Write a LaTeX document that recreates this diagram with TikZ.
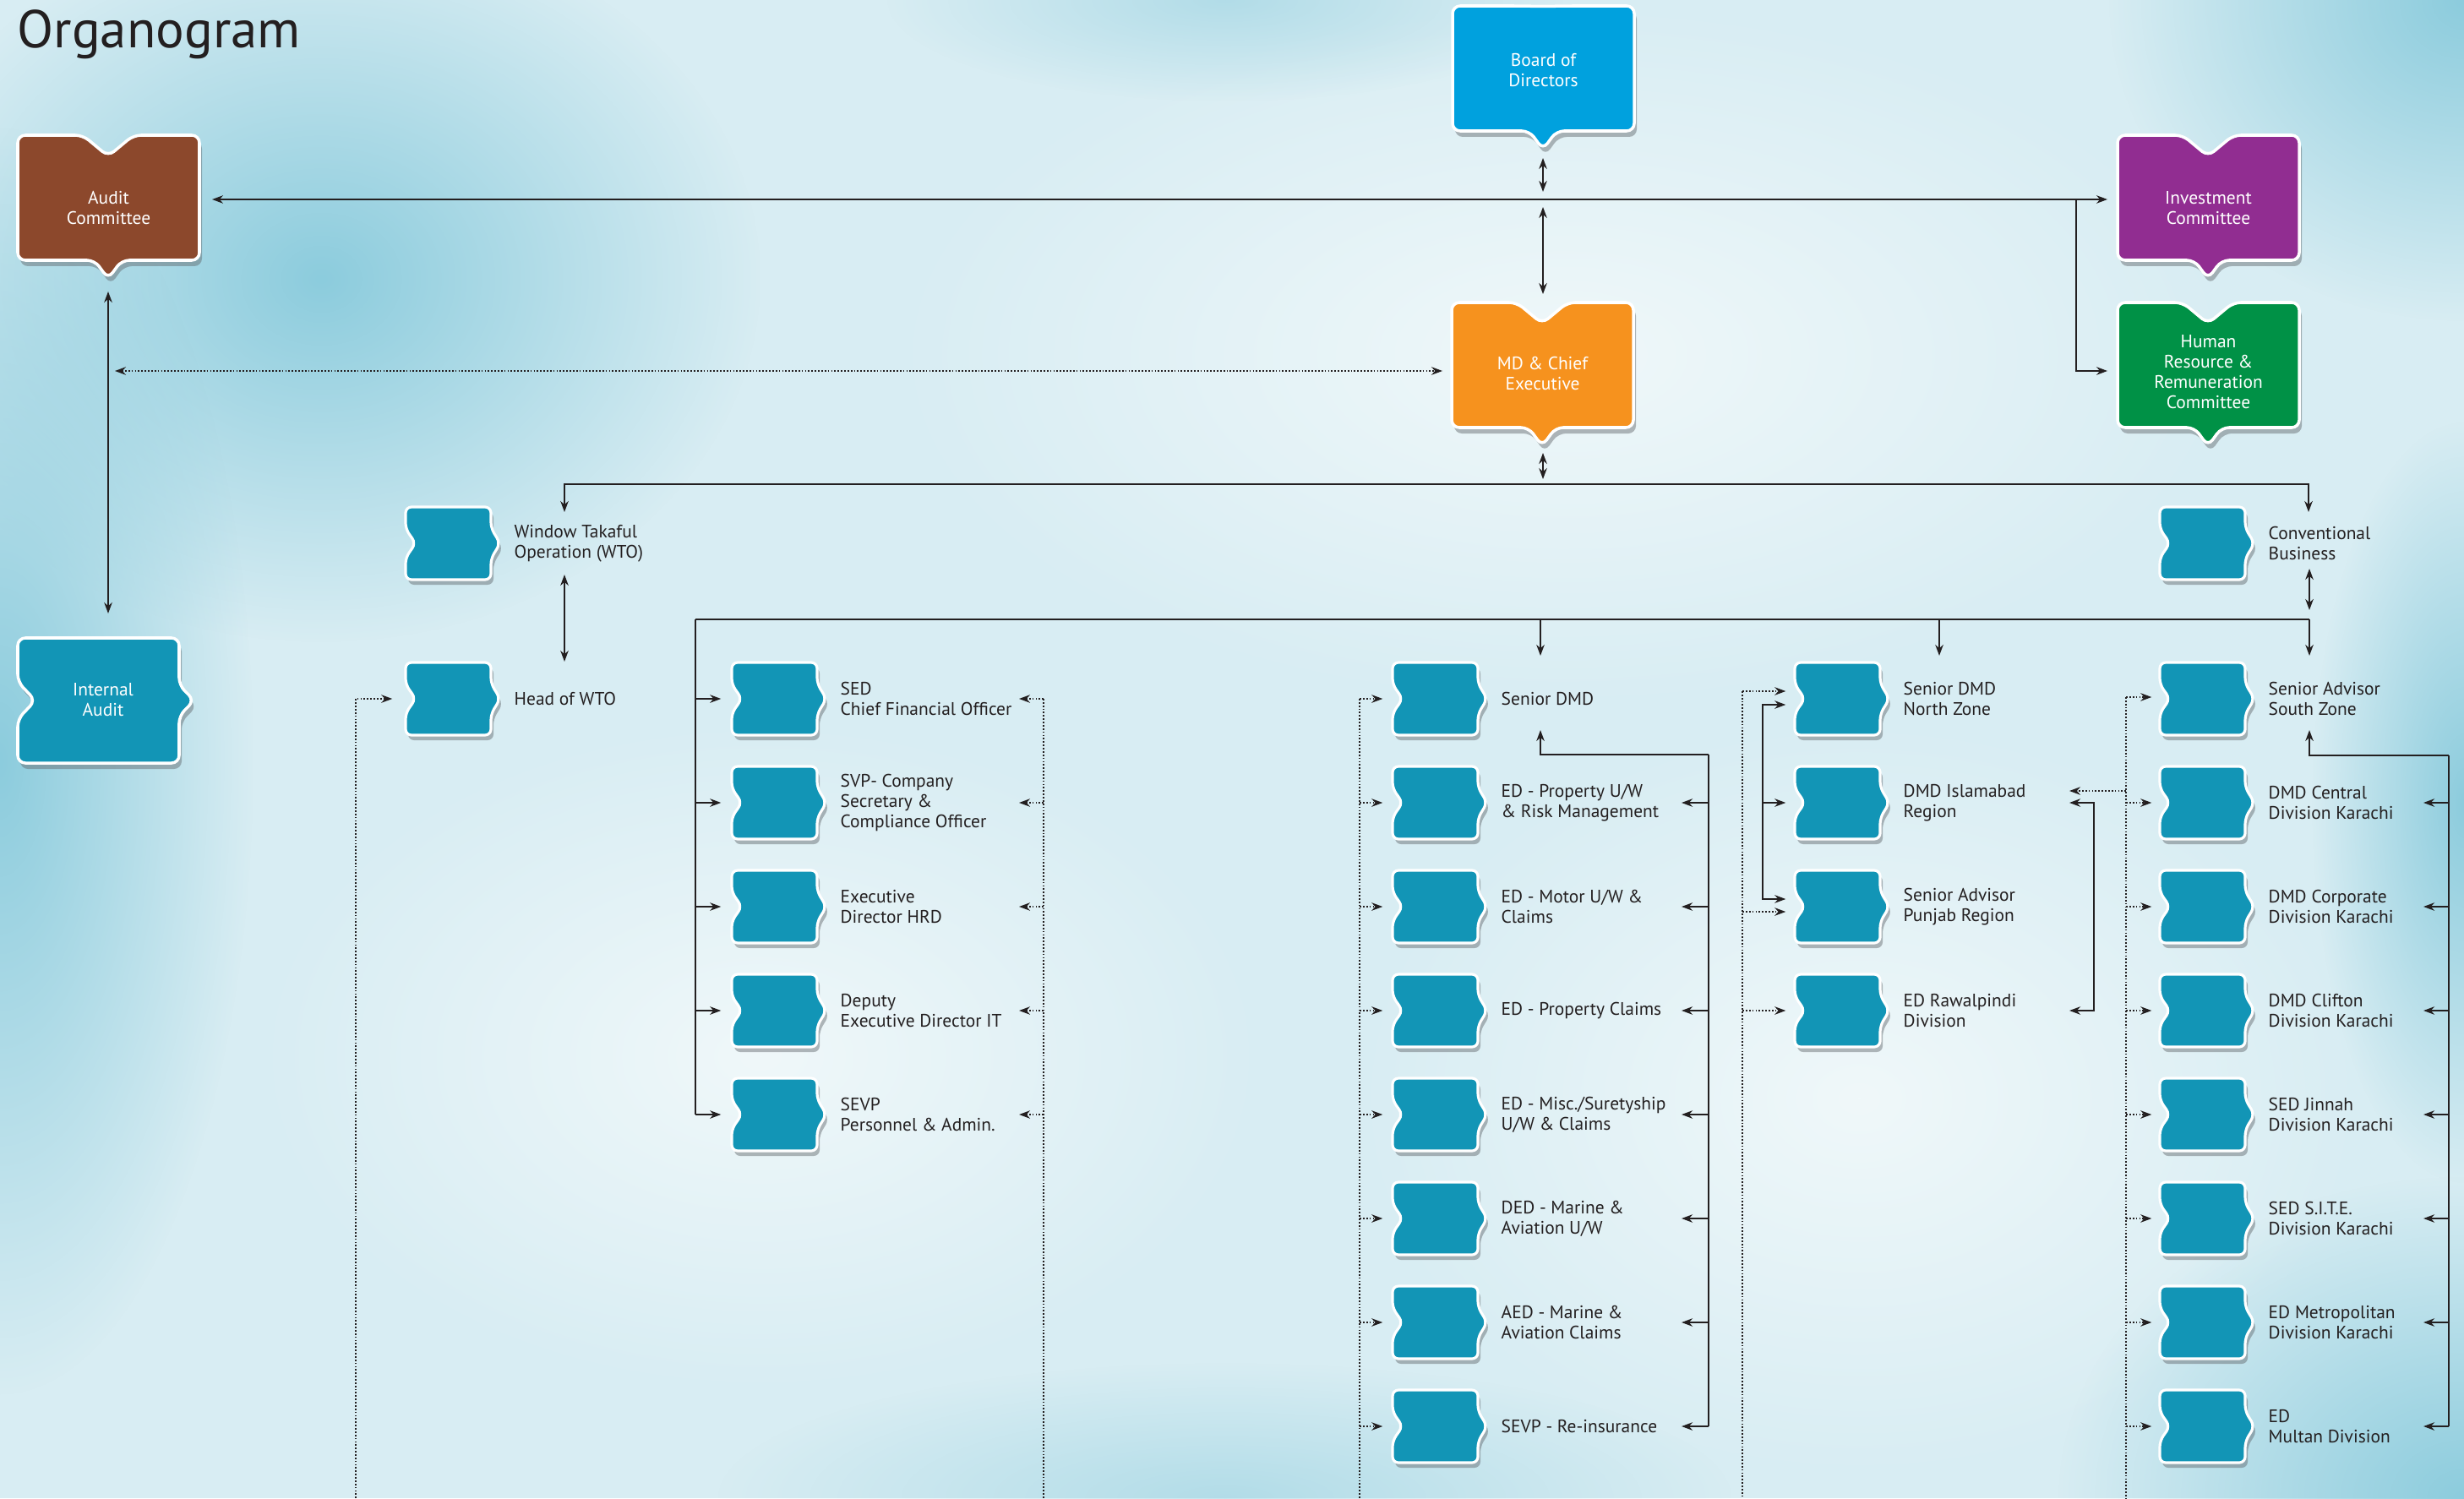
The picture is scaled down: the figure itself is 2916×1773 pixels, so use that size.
\documentclass[tikz,border=0pt]{standalone}
\usepackage{fontspec}
\setmainfont{PT Sans}
\usetikzlibrary{arrows.meta,calc,fadings}
\definecolor{bgc}{RGB}{216,237,243}
\definecolor{bgdark}{RGB}{140,204,221}
\definecolor{bglight}{RGB}{240,248,250}
\definecolor{tealc}{RGB}{18,149,182}
\definecolor{boardc}{RGB}{0,161,222}
\definecolor{mdc}{RGB}{246,146,30}
\definecolor{invc}{RGB}{145,45,145}
\definecolor{hrc}{RGB}{0,145,70}
\definecolor{auditc}{RGB}{140,72,44}
\definecolor{txtc}{RGB}{35,31,32}
\definecolor{shadowc}{RGB}{95,100,105}
\tikzfading[name=blobfade, inner color=transparent!0, outer color=transparent!100]
\newcommand\lblfont{\fontsize{6.1}{6.8}\selectfont}
\tikzset{
  lbl/.style={anchor=west, inner sep=0pt, align=left, font=\lblfont, text=txtc},
  boxtxt/.style={inner sep=0pt, align=center, font=\lblfont, text=white},
  ln/.style={line width=0.6pt, draw=txtc},
  dl/.style={line width=0.45pt, draw=txtc, dash pattern=on 0.5pt off 0.6pt},
  blob/.style={path fading=blobfade, fit fading=true},
}
% small teal box: name, left x, centre y, label
\newcommand\orgsmall[4]{%
  \begin{scope}[shift={(#2,#3)}]
    \begin{scope}[shift={(3,6)}]
      \fill[shadowc, opacity=0.45, rounded corners=0.07cm] (12,0) -- (0,-17) -- (0,-43) -- (101,-43) -- (101,-18) -- (112,0) -- (101,18) -- (101,43) -- (0,43) -- (0,17) -- cycle;
    \end{scope}
    \filldraw[draw=white, line width=0.9pt, fill=tealc, rounded corners=0.07cm] (12,0) -- (0,-17) -- (0,-43) -- (101,-43) -- (101,-18) -- (112,0) -- (101,18) -- (101,43) -- (0,43) -- (0,17) -- cycle;
    \node[inner sep=0pt, minimum width=1.01cm, minimum height=0.86cm] (#1) at (50.5,0) {};
    \node[lbl] (#1t) at (128,0) {#4};
  \end{scope}}
% big coloured box: name, left x, top y, colour, text, notch depth, text offset
\newcommand\orgbig[7]{%
  \begin{scope}[shift={(#2,#3)}]
    \begin{scope}[shift={(3,7)}]
      \fill[shadowc, opacity=0.45, rounded corners=0.09cm] (0,74) -- (0,0) -- (77,0) -- (107,#6) -- (137,0) -- (215,0) -- (215,148) -- (123,148) -- (107,170) -- (91,148) -- (0,148) -- cycle;
    \end{scope}
    \filldraw[draw=white, line width=1pt, fill=#4, rounded corners=0.09cm] (0,74) -- (0,0) -- (77,0) -- (107,#6) -- (137,0) -- (215,0) -- (215,148) -- (123,148) -- (107,170) -- (91,148) -- (0,148) -- cycle;
    \node[inner sep=0pt, minimum width=2.15cm, minimum height=1.48cm] (#1) at (107.5,74) {};
    \node[boxtxt] (#1t) at (107.5,#7) {#5};
  \end{scope}}
\begin{document}
\begin{tikzpicture}[x=0.01cm, y=-0.01cm, >={Stealth[length=1.3mm,width=0.95mm]}]
\useasboundingbox (0,0) rectangle (2916,1773);
% background
\begin{scope}
  \clip (0,0) rectangle (2916,1773);
  \fill[bgc] (0,0) rectangle (2916,1773);
  \fill[bglight, blob] (1850,420) ellipse (800 and 420);
  \fill[bglight, blob] (2200,1300) ellipse (600 and 450);
  \fill[bglight, blob] (900,1250) ellipse (600 and 400);
  \fill[bgdark, blob] (380,330) ellipse (520 and 430);
  \fill[bgdark, blob] (0,900) ellipse (300 and 750);
  \fill[bgdark, blob] (2916,0) ellipse (420 and 380);
  \fill[bgdark, blob] (2916,950) ellipse (180 and 450);
  \fill[bgdark, blob] (2916,1773) ellipse (480 and 380);
  \fill[bgdark, opacity=0.5, blob] (1450,1773) ellipse (600 and 160);
  \fill[bgdark, opacity=0.5, blob] (1450,0) ellipse (400 and 120);
\end{scope}
% title
\node[anchor=base west, inner sep=0pt, font=\fontsize{17.9}{20}\selectfont, text=txtc] (title) at (20,57) {Organogram};
% big boxes
\orgbig{board}{1719}{7}{boardc}{Board of\\Directors}{0.5}{76}
\orgbig{audit}{21}{160}{auditc}{Audit\\Committee}{25}{86}
\orgbig{md}{1718}{358}{mdc}{MD \& Chief\\Executive}{25}{84}
\orgbig{invest}{2506}{160}{invc}{Investment\\Committee}{25}{86}
\orgbig{hr}{2506}{358}{hrc}{\fontsize{6.1}{6.1}\selectfont Human\\Resource \&\\Remuneration\\Committee}{25}{82}
% internal audit
\begin{scope}[shift={(21,755)}]
  \begin{scope}[shift={(3,7)}]
    \fill[shadowc, opacity=0.45, rounded corners=0.09cm] (0,0) -- (191,0) -- (191,56) -- (209,74) -- (191,92) -- (191,148) -- (0,148) -- (0,96) -- (21,74) -- (0,52) -- cycle;
  \end{scope}
  \filldraw[draw=white, line width=1pt, fill=tealc, rounded corners=0.09cm] (0,0) -- (191,0) -- (191,56) -- (209,74) -- (191,92) -- (191,148) -- (0,148) -- (0,96) -- (21,74) -- (0,52) -- cycle;
  \node[inner sep=0pt, minimum width=1.91cm, minimum height=1.48cm] (ia) at (95.5,74) {};
  \node[boxtxt] (iat) at (101,73) {Internal\\Audit};
\end{scope}
% small boxes
\orgsmall{wto}{480}{643}{Window Takaful\\Operation (WTO)}
\orgsmall{hwto}{480}{827}{Head of WTO}
\orgsmall{conv}{2556}{643}{Conventional\\Business}
\foreach \i/\t [evaluate=\i as \ry using 827+123*(\i-1)] in {1/{SED\\Chief Financial Officer}, 2/{SVP- Company\\Secretary \&\\Compliance Officer}, 3/{Executive\\Director HRD}, 4/{Deputy\\Executive Director IT}, 5/{SEVP\\Personnel \& Admin.}}
  {\orgsmall{A\i}{866}{\ry}{\t}}
\foreach \i/\t [evaluate=\i as \ry using 827+123*(\i-1)] in {1/{Senior DMD}, 2/{ED - Property U/W\\\& Risk Management}, 3/{ED - Motor U/W \&\\Claims}, 4/{ED - Property Claims}, 5/{ED - Misc./Suretyship\\U/W \& Claims}, 6/{DED - Marine \&\\Aviation U/W}, 7/{AED - Marine \&\\Aviation Claims}, 8/{SEVP - Re-insurance}}
  {\orgsmall{B\i}{1648}{\ry}{\t}}
\foreach \i/\t [evaluate=\i as \ry using 827+123*(\i-1)] in {1/{Senior DMD\\North Zone}, 2/{DMD Islamabad\\Region}, 3/{Senior Advisor\\Punjab Region}, 4/{ED Rawalpindi\\Division}}
  {\orgsmall{C\i}{2124}{\ry}{\t}}
\foreach \i/\t [evaluate=\i as \ry using 827+123*(\i-1)] in {1/{Senior Advisor\\South Zone}, 2/{DMD Central\\Division Karachi}, 3/{DMD Corporate\\Division Karachi}, 4/{DMD Clifton\\Division Karachi}, 5/{SED Jinnah\\Division Karachi}, 6/{SED S.I.T.E.\\Division Karachi}, 7/{ED Metropolitan\\Division Karachi}, 8/{ED\\Multan Division}}
  {\orgsmall{D\i}{2556}{\ry}{\t}}
% coordinates
\coordinate (bot) at (0,1773);
\coordinate (mlL) at (251,236);
\coordinate (mlR) at (2494,236);
\coordinate (bd1) at (1826,187);
\coordinate (bd2) at (1826,227);
\coordinate (md1) at (1826,245);
\coordinate (md2) at (1826,348);
\coordinate (hrj) at (2457,236);
\coordinate (hrA) at (2494,439);
\coordinate (au1) at (128,345);
\coordinate (au2) at (128,726);
\coordinate (dt1) at (136,439);
\coordinate (dt2) at (1707,439);
\coordinate (md3) at (1826,536);
\coordinate (md4) at (1826,567);
\coordinate (l1L) at (668,573);
\coordinate (wtoA) at (668,606);
\coordinate (convA) at (2732,606);
\coordinate (wt1) at (668,680);
\coordinate (wt2) at (668,783);
\coordinate (cb1) at (2733,673);
\coordinate (cb2) at (2733,722);
\coordinate (l2L) at (823,733);
\coordinate (l2R) at (2733,733);
\coordinate (sdA) at (1823,776);
\coordinate (snA) at (2295,776);
\coordinate (ssA) at (2733,776);
\coordinate (vAr) at (1235,827);
\coordinate (xAr) at (1206,827);
\coordinate (vW) at (421,827);
\coordinate (vBd) at (1609,827);
\coordinate (vBs) at (2022,893);
\coordinate (sdj) at (1823,893);
\coordinate (sdU) at (1823,864);
\coordinate (xBr) at (1990,827);
\coordinate (vCd) at (2062,818);
\coordinate (vCs) at (2086,834);
\coordinate (vCs2) at (2086,1064);
\coordinate (vCd3) at (2062,1079);
\coordinate (vCr) at (2478,950);
\coordinate (xCr) at (2449,950);
\coordinate (vDd) at (2516,825);
\coordinate (dDC) at (2516,936);
\coordinate (xDC) at (2449,936);
\coordinate (vDs) at (2898,894);
\coordinate (sdj2) at (2733,894);
\coordinate (ssU) at (2733,864);
\coordinate (xDr) at (2868,827);
% top connectors
\draw[ln,<->] (mlL) -- (mlR);
\draw[ln,<->] (bd1) -- (bd2);
\draw[ln,<->] (md1) -- (md2);
\draw[ln,->] (hrj) |- (hrA);
\draw[ln,<->] (au1) -- (au2);
\draw[dl,<->] (dt1) -- (dt2);
\draw[ln,<->] (md3) -- (md4);
\draw[ln,<->] (wtoA) -- (l1L) -| (convA);
\draw[ln,<->] (wt1) -- (wt2);
\draw[ln,<->] (cb1) -- (cb2);
\draw[ln] (l2L) -- (l2R);
\draw[ln,->] (sdA |- l2L) -- (sdA);
\draw[ln,->] (snA |- l2L) -- (snA);
\draw[ln,->] (l2R) -- (ssA);
% column A
\draw[ln] (l2L) -- (l2L |- A5);
\foreach \i in {1,...,5} {
  \draw[ln,->] (l2L |- A\i) -- ([xshift=-0.12cm]A\i.west);
  \draw[dl,->] (vAr |- A\i) -- (xAr |- A\i);
}
\draw[dl] (vAr) -- (vAr |- bot);
\draw[dl,->] (vW |- bot) -- (vW) -- ([xshift=-0.15cm]hwto.west);
% column B
\draw[dl] (vBd) -- (vBd |- bot);
\foreach \i in {1,...,8} {
  \draw[dl,->] (vBd |- B\i) -- ([xshift=-0.11cm]B\i.west);
}
\draw[ln,->] (vBs) -- (sdj) -- (sdU);
\draw[ln] (vBs) -- (vBs |- B8);
\foreach \i in {2,...,8} {
  \draw[ln,->] (vBs |- B\i) -- (xBr |- B\i);
}
% column C
\draw[dl] (vCd) -- (vCd |- bot);
\draw[dl,->] (vCd) -- ([xshift=-0.1cm]C1.west |- vCd);
\draw[dl,->] (vCd3) -- ([xshift=-0.1cm]C3.west |- vCd3);
\draw[dl,->] (vCd |- C4) -- ([xshift=-0.1cm]C4.west);
\draw[ln,<->] ([xshift=-0.1cm]C1.west |- vCs) -- (vCs) -- (vCs2) -- ([xshift=-0.1cm]C3.west |- vCs2);
\draw[ln,->] (vCs |- C2) -- ([xshift=-0.1cm]C2.west);
\draw[ln,<->] (xCr) -- (vCr) -- (vCr |- C4) -- (xCr |- C4);
% column D
\draw[dl] (vDd) -- (vDd |- bot);
\draw[dl,->] (vDd) -- ([xshift=-0.09cm]D1.west |- vDd);
\foreach \i in {2,...,8} {
  \draw[dl,->] (vDd |- D\i) -- ([xshift=-0.09cm]D\i.west);
}
\draw[dl,->] (dDC) -- (xDC);
\draw[ln,->] (vDs) -- (sdj2) -- (ssU);
\draw[ln] (vDs) -- (vDs |- D8);
\foreach \i in {2,...,8} {
  \draw[ln,->] (vDs |- D\i) -- (xDr |- D\i);
}
\end{tikzpicture}
\end{document}
